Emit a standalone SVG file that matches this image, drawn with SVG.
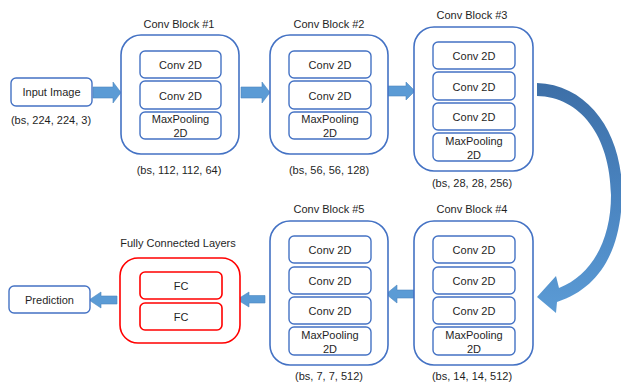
<svg xmlns="http://www.w3.org/2000/svg" width="621" height="383" viewBox="0 0 621 383">
<defs>
<style>
text{font-family:"Liberation Sans",Arial,sans-serif;font-size:11px;fill:#1f1f1f;text-anchor:middle}
.blk{fill:#fff;stroke:#4472C4;stroke-width:1.6}
.in{fill:#fff;stroke:#4472C4;stroke-width:1.4}
.red{fill:#fff;stroke:#FF0000;stroke-width:1.6}
.arr{fill:#5B9BD5;stroke:#4F88C0;stroke-width:0.6}
</style>
<linearGradient id="cg" x1="0" y1="0" x2="0" y2="1">
<stop offset="0" stop-color="#3D6FA7"/>
<stop offset="0.5" stop-color="#4A84C0"/>
<stop offset="1" stop-color="#5B9BD5"/>
</linearGradient>
</defs>

<g id="connectors">
<path class="arr" d="M93,87 H113 V82 L121,92.5 L113,103 V98 H93 Z"/>
<path class="arr" d="M241,87 H262 V82 L270,92.5 L262,103 V98 H241 Z"/>
<path class="arr" d="M386,86 H406 V82 L415,91 L406,100 V96 H386 Z"/>
<path d="M537,83 C590,85 623,135 622,195 C621,250 600,288 557,302 L556,313 L537,297 L556,276 L559,288 C592,275 611,240 611,195 C610,135 580,97 537,96 Z" fill="url(#cg)"/>
<path class="arr" d="M414,290 H397 V285 L386,294 L397,303 V298 H414 Z"/>
<path class="arr" d="M265,295.5 H249 V292 L237,299.5 L249,307 V303 H265 Z"/>
<path class="arr" d="M117,296 H101 V292 L89,300 L101,308 V304 H117 Z"/>
</g>

<g id="input">
<rect class="in" x="11" y="78" width="81" height="28" rx="5"/>
<text x="51.5" y="96">Input Image</text>
<text x="51" y="124">(bs, 224, 224, 3)</text>
</g>

<g id="block1">
<text x="179" y="28">Conv Block #1</text>
<rect class="blk" x="121" y="35" width="118" height="119" rx="20"/>
<rect class="in" x="140" y="51" width="81" height="27" rx="5"/>
<text x="180.5" y="69">Conv 2D</text>
<rect class="in" x="140" y="81" width="81" height="28" rx="5"/>
<text x="180.5" y="99.5">Conv 2D</text>
<rect class="in" x="140" y="112" width="81" height="27" rx="5"/>
<text x="180.5" y="123">MaxPooling</text>
<text x="180.5" y="137">2D</text>
<text x="179" y="174">(bs, 112, 112, 64)</text>
</g>

<g id="block2">
<text x="329" y="28">Conv Block #2</text>
<rect class="blk" x="270" y="35" width="118" height="119" rx="20"/>
<rect class="in" x="289" y="51" width="82" height="27" rx="5"/>
<text x="330" y="69">Conv 2D</text>
<rect class="in" x="289" y="81" width="82" height="28" rx="5"/>
<text x="330" y="99.5">Conv 2D</text>
<rect class="in" x="289" y="112" width="82" height="27" rx="5"/>
<text x="330" y="123">MaxPooling</text>
<text x="330" y="137">2D</text>
<text x="329" y="174">(bs, 56, 56, 128)</text>
</g>

<g id="block3">
<text x="472" y="19">Conv Block #3</text>
<rect class="blk" x="414" y="27" width="119" height="144" rx="20"/>
<rect class="in" x="433" y="42" width="82" height="27" rx="5"/>
<text x="474" y="60">Conv 2D</text>
<rect class="in" x="433" y="72" width="82" height="28" rx="5"/>
<text x="474" y="90.5">Conv 2D</text>
<rect class="in" x="433" y="103" width="82" height="27" rx="5"/>
<text x="474" y="121">Conv 2D</text>
<rect class="in" x="433" y="133" width="82" height="28" rx="5"/>
<text x="474" y="145">MaxPooling</text>
<text x="474" y="159">2D</text>
<text x="472" y="187">(bs, 28, 28, 256)</text>
</g>

<g id="block4">
<text x="472" y="213">Conv Block #4</text>
<rect class="blk" x="414" y="221" width="119" height="144" rx="20"/>
<rect class="in" x="433" y="236" width="82" height="27" rx="5"/>
<text x="474" y="254">Conv 2D</text>
<rect class="in" x="433" y="267" width="82" height="27" rx="5"/>
<text x="474" y="285">Conv 2D</text>
<rect class="in" x="433" y="297" width="82" height="27" rx="5"/>
<text x="474" y="315">Conv 2D</text>
<rect class="in" x="433" y="327" width="82" height="28" rx="5"/>
<text x="474" y="339">MaxPooling</text>
<text x="474" y="353">2D</text>
<text x="472" y="380">(bs, 14, 14, 512)</text>
</g>

<g id="block5">
<text x="329" y="213">Conv Block #5</text>
<rect class="blk" x="270" y="221" width="118" height="144" rx="20"/>
<rect class="in" x="289" y="236" width="82" height="27" rx="5"/>
<text x="330" y="254">Conv 2D</text>
<rect class="in" x="289" y="267" width="82" height="27" rx="5"/>
<text x="330" y="285">Conv 2D</text>
<rect class="in" x="289" y="297" width="82" height="27" rx="5"/>
<text x="330" y="315">Conv 2D</text>
<rect class="in" x="289" y="327" width="82" height="28" rx="5"/>
<text x="330" y="339">MaxPooling</text>
<text x="330" y="353">2D</text>
<text x="329" y="380">(bs, 7, 7, 512)</text>
</g>

<g id="fc">
<text x="178" y="247">Fully Connected Layers</text>
<rect class="red" x="120" y="258" width="120" height="85" rx="18"/>
<rect class="red" x="140" y="272" width="82" height="27" rx="5" stroke-width="1.4"/>
<text x="181" y="290">FC</text>
<rect class="red" x="140" y="303" width="82" height="27" rx="5" stroke-width="1.4"/>
<text x="181" y="321">FC</text>
</g>

<g id="prediction">
<rect class="in" x="9" y="286" width="81" height="27" rx="5"/>
<text x="49.5" y="304">Prediction</text>
</g>
</svg>
